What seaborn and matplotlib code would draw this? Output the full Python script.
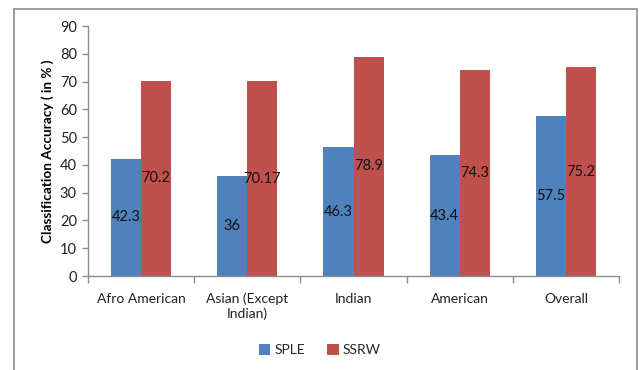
import matplotlib
matplotlib.use("Agg")
import matplotlib.pyplot as plt
import seaborn as sns
import pandas as pd
from matplotlib.patches import Rectangle

categories = ["Afro American", "Asian (Except\nIndian)", "Indian", "American", "Overall"]
series_names = ["SPLE", "SSRW"]
sple = [42.3, 36, 46.3, 43.4, 57.5]
ssrw = [70.2, 70.17, 78.9, 74.3, 75.2]
yticks = [0, 10, 20, 30, 40, 50, 60, 70, 80, 90]

sns.set_theme(style="white")
plt.rcParams["font.family"] = ["Lato", "DejaVu Sans"]

df = pd.DataFrame({
    "Category": categories * 2,
    "Series": [series_names[0]] * len(categories) + [series_names[1]] * len(categories),
    "Value": sple + ssrw,
})

fig = plt.figure(figsize=(6.4, 3.7), dpi=100)
ax = fig.add_axes([88 / 640, 1 - 276 / 370, (619 - 88) / 640, (276 - 26) / 370])

palette = {"SPLE": "#4F81BD", "SSRW": "#C0504D"}
sns.barplot(data=df, x="Category", y="Value", hue="Series", palette=palette,
            width=0.565, gap=0, ax=ax, saturation=1, edgecolor="none",
            order=categories, hue_order=series_names)

for cont, vals in zip(ax.containers, [sple, ssrw]):
    ax.bar_label(cont, labels=[f"{v:g}" for v in vals], label_type="center",
                 fontsize=10.5, color="#111111")

ax.set_ylim(0, 90)
ax.set_xlim(-0.5, len(categories) - 0.5)
ax.set_yticks(yticks)
ax.set_xlabel("")
ax.set_ylabel("Classification Accuracy ( in % )", fontsize=9.8, fontweight="bold",
              color="black", labelpad=4)

for s in ["top", "right"]:
    ax.spines[s].set_visible(False)
for s in ["left", "bottom"]:
    ax.spines[s].set_color("#8C8C8C")
    ax.spines[s].set_linewidth(1)

ax.tick_params(axis="y", which="major", left=True, length=4, width=1, color="#8C8C8C",
               labelsize=10.5, labelcolor="#222222", pad=4)
ax.tick_params(axis="x", which="major", bottom=False, length=0, labelsize=10,
               labelcolor="#222222", pad=12)
ax.set_xticks([i - 0.5 for i in range(len(categories) + 1)], minor=True)
ax.tick_params(axis="x", which="minor", bottom=True, length=5, width=1, color="#8C8C8C")

handles, labels = ax.get_legend_handles_labels()
ax.legend_.remove()
fig.legend(handles, labels, loc="center", bbox_to_anchor=(0.5, 1 - 350 / 370), ncol=2,
           frameon=False, fontsize=10, handlelength=0.8, handleheight=0.8,
           handletextpad=0.3, columnspacing=1.6)

fig.patches.append(Rectangle((14 / 640, -0.1), (637 - 14) / 640, 1.1 - 9 / 370,
                             transform=fig.transFigure, fill=False,
                             edgecolor="#8C8C8C", linewidth=1.2))

fig.savefig("out.png", dpi=100, facecolor="white")
